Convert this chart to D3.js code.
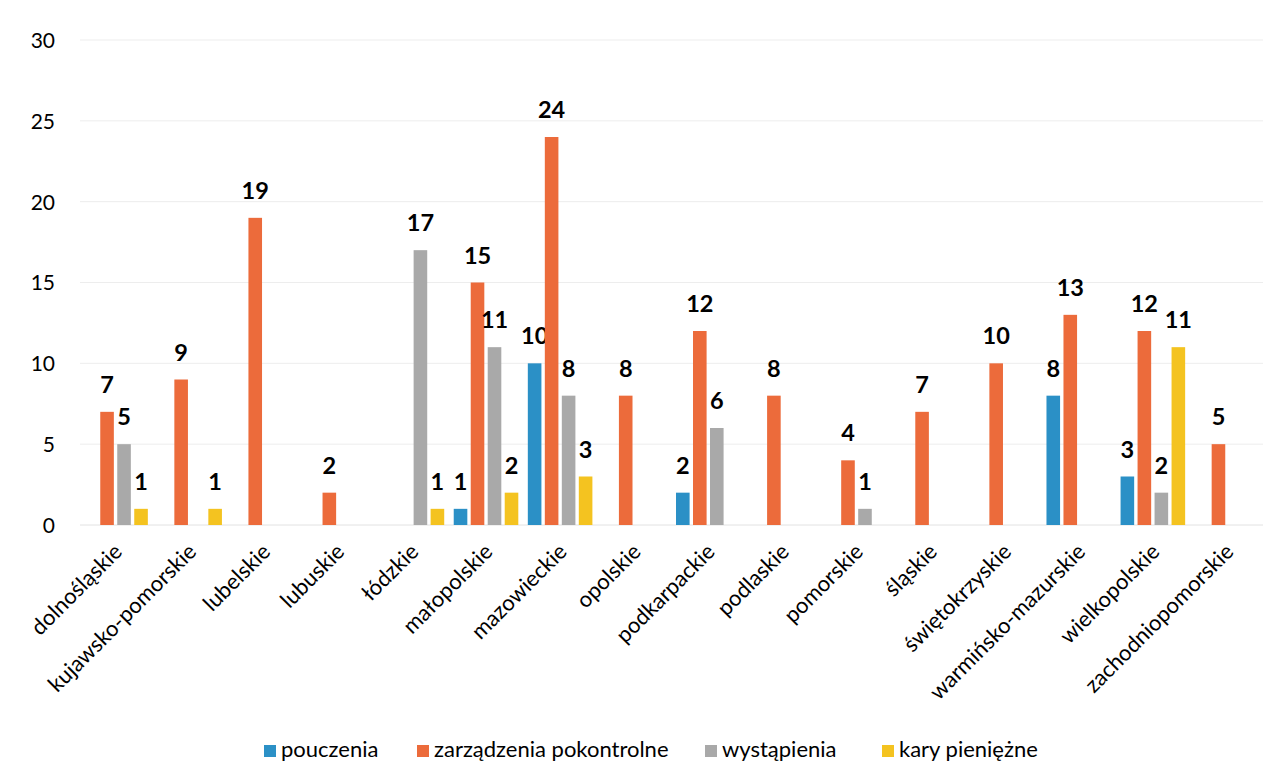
<!DOCTYPE html>
<html>
<head>
<meta charset="utf-8">
<script src="https://cdn.jsdelivr.net/npm/d3@7"></script>
<style>
  html, body { margin: 0; padding: 0; background: #ffffff; }
  svg { display: block; }
  text { font-family: Lato, "Open Sans", sans-serif; fill: #000; }
</style>
</head>
<body>
<svg id="chart" width="1279" height="780"></svg>
<script>
// ---- data ----
const categories = ["dolnośląskie","kujawsko-pomorskie","lubelskie","lubuskie","łódzkie","małopolskie","mazowieckie","opolskie","podkarpackie","podlaskie","pomorskie","śląskie","świętokrzyskie","warmińsko-mazurskie","wielkopolskie","zachodniopomorskie"];
const seriesNames = ["pouczenia","zarządzenia pokontrolne","wystąpienia","kary pieniężne"];
const pouczenia      = [0,0,0,0,0,1,10,0,2,0,0,0,0,8,3,0];
const zarzadzenia    = [7,9,19,2,0,15,24,8,12,8,4,7,10,13,12,5];
const wystapienia    = [5,0,0,0,17,11,8,0,6,0,1,0,0,0,2,0];
const karyPieniezne  = [1,1,0,0,1,2,3,0,0,0,0,0,0,0,11,0];
const yTicks = [0,5,10,15,20,25,30];
const colors = ["#2b90c6","#ec6b3b","#a9a9a9","#f4c320"];

const seriesValues = [pouczenia, zarzadzenia, wystapienia, karyPieniezne];

const svg = d3.select("#chart");
svg.append("rect").attr("width",1279).attr("height",780).attr("fill","#fff");

const x0 = d3.scaleBand().domain(categories).range([78.5, 1264]).padding(0);
const x1 = d3.scaleBand().domain(seriesNames).range([0, x0.bandwidth()])
  .paddingInner(0.2).paddingOuter(0.28);
const y = d3.scaleLinear().domain([0,30]).range([525, 40]);

// gridlines
svg.append("g").selectAll("line").data(yTicks).join("line")
  .attr("x1", 80).attr("x2", 1263)
  .attr("y1", d => y(d)).attr("y2", d => y(d))
  .attr("stroke", d => d === 0 ? "#e2e2e2" : "#ededed").attr("stroke-width", 1);

// y axis labels
const yAxis = d3.axisLeft(y).tickValues(yTicks).tickSize(0).tickPadding(0);
const gy = svg.append("g").attr("transform","translate(55,0)").call(yAxis);
gy.select(".domain").remove();
gy.selectAll("text").style("font-family","Lato, sans-serif").style("font-size","21px").attr("fill","#000").attr("dy","0.35em");

// bars
const groups = svg.append("g").selectAll("g").data(categories).join("g")
  .attr("transform", c => `translate(${x0(c)},0)`);

seriesNames.forEach((s, si) => {
  groups.each(function(c, ci) {
    const v = seriesValues[si][ci];
    if (v <= 0) return;
    const g = d3.select(this);
    g.append("rect")
      .attr("x", x1(s)).attr("width", x1.bandwidth())
      .attr("y", y(v)).attr("height", y(0) - y(v))
      .attr("fill", colors[si]);
    g.append("text")
      .attr("x", x1(s) + x1.bandwidth()/2)
      .attr("y", y(v) - 19)
      .attr("text-anchor","middle")
      .style("font-size","23.5px").style("font-weight","700")
      .text(v);
  });
});

// x labels
svg.append("g").selectAll("text").data(categories).join("text")
  .attr("transform", c => `translate(${x0(c) + x0.bandwidth()/2 + 8},553) rotate(-45)`)
  .attr("text-anchor","end")
  .style("font-size","22px")
  .text(c => c);

// legend
const legendX = [264, 417, 705, 882];
const legend = svg.append("g");
seriesNames.forEach((s, i) => {
  legend.append("rect").attr("x", legendX[i]).attr("y", 745).attr("width",12).attr("height",12).attr("fill", colors[i]);
  legend.append("text").attr("x", legendX[i] + 17).attr("y", 757).style("font-size","22px").text(s);
});
</script>
</body>
</html>
